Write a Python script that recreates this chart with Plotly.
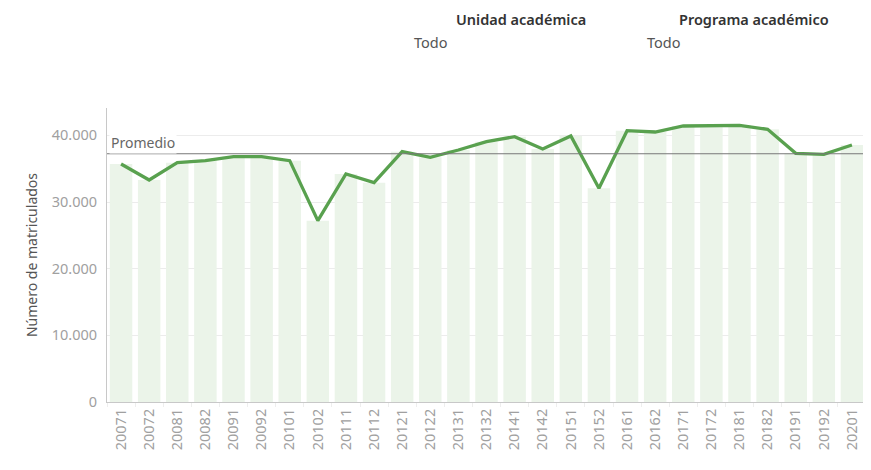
import plotly.graph_objects as go

periodos = ["20071","20072","20081","20082","20091","20092","20101","20102","20111","20112",
            "20121","20122","20131","20132","20141","20142","20151","20152","20161","20162",
            "20171","20172","20181","20182","20191","20192","20201"]
matriculados = [35700,33300,35900,36200,36800,36800,36200,27200,34200,32900,
                37550,36700,37800,39050,39800,37950,39900,32050,40700,40500,
                41400,41500,41500,40900,37300,37150,38550]
y_ticks = [0, 10000, 20000, 30000, 40000]

promedio = sum(matriculados) / len(matriculados)

FONT = "Noto Sans"
OFF = 8  # page body margin
FW, FH = 871 - OFF, 470 - OFF
L, T, W, H = 107 - OFF, 108 - OFF, 759, 294

fig = go.Figure()
fig.add_trace(go.Bar(x=periodos, y=matriculados, marker_color="#ebf4e9",
                     marker_line_width=0, hoverinfo="skip"))
fig.add_trace(go.Scatter(x=periodos, y=matriculados, mode="lines",
                         line=dict(color="#59a14f", width=3.3)))

fig.add_shape(type="line", xref="paper", x0=0, x1=1, yref="y", y0=promedio, y1=promedio,
              line=dict(color="#777777", width=1.2))
fig.add_annotation(xref="paper", x=0.003, yref="y", y=promedio, text="Promedio",
                   showarrow=False, xanchor="left", yanchor="bottom",
                   font=dict(family=FONT, size=14, color="#666666"),
                   bgcolor="white", borderpad=1)

for x, t in [(521, "Unidad académica"), (754, "Programa académico")]:
    fig.add_annotation(xref="paper", yref="paper", x=(x - OFF - L) / W, y=1 + (T - (19 - OFF)) / H,
                       text=t, showarrow=False, xanchor="center", yanchor="middle",
                       font=dict(family=FONT, size=14.5, color="#333333", weight=600))
for x in [412, 645]:
    fig.add_annotation(xref="paper", yref="paper", x=(x - OFF - L) / W, y=1 + (T - (42 - OFF)) / H,
                       text="Todo", showarrow=False, xanchor="left", yanchor="middle",
                       font=dict(family=FONT, size=14.5, color="#555555"))

fig.update_layout(
    width=FW, height=FH,
    margin=dict(l=L, r=FW - L - W, t=T, b=FH - T - H),
    plot_bgcolor="white", paper_bgcolor="white",
    separators=",.",
    showlegend=False,
    bargap=0.2,
    font=dict(family=FONT, size=14, color="#999999"),
)
fig.update_xaxes(type="category", tickangle=-90, showline=True, linecolor="#c8c8c8",
                 linewidth=1, showgrid=False, ticks="outside", ticklen=4,
                 tickcolor="#eeeeee", tickson="boundaries", automargin=False,
                 tickfont=dict(family=FONT, size=14.5, color="#a0a0a0"))
fig.update_yaxes(range=[0, 44100], tickvals=y_ticks, tickformat=",d",
                 showline=True, linecolor="#c8c8c8", linewidth=1,
                 showgrid=True, gridcolor="#ececec", zeroline=False,
                 ticks="outside", ticklen=6, tickcolor="white", automargin=False,
                 tickfont=dict(family=FONT, size=14.5, color="#a0a0a0"),
                 title=dict(text="Número de matriculados", standoff=10,
                            font=dict(family=FONT, size=14, color="#555555")))

fig.write_html("out.html")
